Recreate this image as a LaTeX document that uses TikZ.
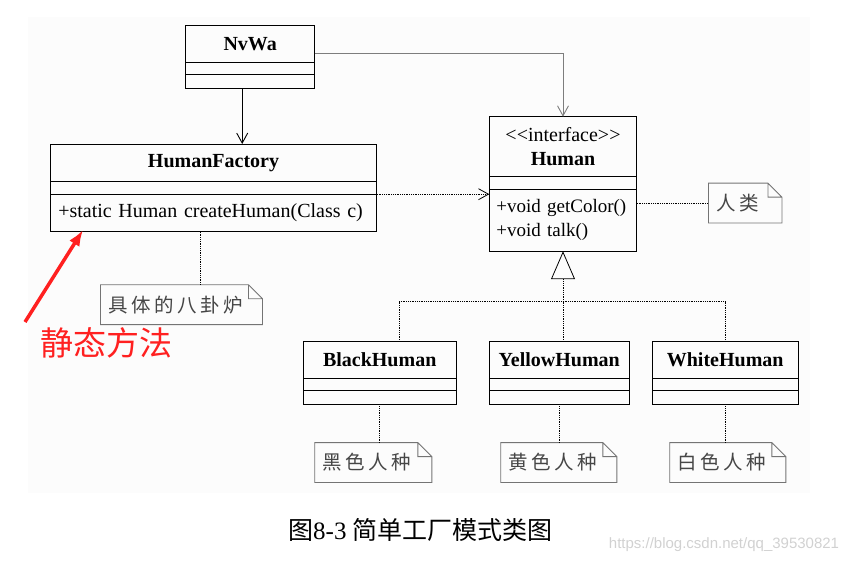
\documentclass[tikz,border=0pt]{standalone}
\usepackage{fontspec}
\usepackage{xcolor}
\setmainfont{Liberation Serif}
\setsansfont{Liberation Sans}
\newfontfamily\cjk{Noto Sans CJK SC}
\newfontfamily\cjkwide{Noto Sans CJK SC}[LetterSpace=18]
\usetikzlibrary{positioning,arrows.meta}

\definecolor{notegray}{RGB}{70,70,70}
\definecolor{linkgray}{RGB}{125,125,125}
\definecolor{markred}{RGB}{255,32,32}

\begin{document}
\begin{tikzpicture}[x=1pt, y=-1pt,
    >={Straight Barb[length=10pt,width=11pt]},
    clsname/.style={draw, line width=0.9pt, minimum width=#1, minimum height=37pt,
      inner sep=0pt, outer sep=0pt, font=\bfseries\fontsize{20}{24}\selectfont},
    clsbar/.style={draw, line width=0.9pt, minimum width=#1, minimum height=12.5pt,
      inner sep=0pt, outer sep=0pt},
    clsops/.style={draw, line width=0.9pt, text width=#1, inner xsep=8pt, inner ysep=0pt,
      outer sep=0pt, align=left, font=\fontsize{20}{24}\selectfont},
    notebox/.style={text width=#1, align=left, inner xsep=8pt, inner ysep=0pt,
      minimum height=39.4pt, text=notegray, font=\cjkwide\fontsize{19.5}{22}\selectfont},
    notedraw/.style={draw=notegray!75, line width=0.8pt},
    notelink/.style={densely dotted, line width=0.8pt},
    assoc/.style={->, line width=0.9pt},
    depend/.style={->, densely dotted, line width=0.8pt},
    realize/.style={densely dotted, line width=0.8pt}
  ]
  \useasboundingbox (0,0) rectangle (854,563);
  \fill[black!1] (28,17) rectangle (810,493);

  % ===== factory side =====
  \node[clsname=129pt, minimum height=36.6pt] (nvwa) at (250.2,44) {NvWa};
  \node[clsbar=129pt, below=0pt of nvwa] (nvwaattr) {};
  \node[clsbar=129pt, minimum height=13.7pt, below=0pt of nvwaattr] (nvwaops) {};

  \node[clsname=326.4pt, minimum height=37.7pt] (hf) at (213.5,162.85)
    {\raisebox{-2pt}{HumanFactory}};
  \node[clsbar=326.4pt, below=0pt of hf] (hfattr) {};
  \node[clsops=310.4pt, minimum height=37.6pt, below=0pt of hfattr] (hfops)
    {+static Human createHuman(Class c)};

  % ===== interface =====
  \node[clsname=147.4pt, minimum height=60pt, align=center] (hum) at (563,146.7)
    {{\mdseries <\kern0pt<interface>\kern0pt>}\\Human};
  \node[clsbar=147.4pt, below=0pt of hum] (humattr) {};
  \node[clsops=133.4pt, inner xsep=7pt, minimum height=62pt, below=0pt of humattr,
        font=\fontsize{19}{24}\selectfont] (humops)
    {+void getColor()\\+void talk()};

  % ===== products =====
  \node[clsname=152.7pt, minimum height=36.6pt] (black) at (379.7,360) {BlackHuman};
  \node[clsbar=152.7pt, below=0pt of black] (blackattr) {};
  \node[clsbar=152.7pt, minimum height=13.6pt, below=0pt of blackattr] (blackops) {};

  \node[clsname=139.7pt, minimum height=36.6pt] (yellow) at (559.2,360) {YellowHuman};
  \node[clsbar=139.7pt, below=0pt of yellow] (yellowattr) {};
  \node[clsbar=139.7pt, minimum height=13.6pt, below=0pt of yellowattr] (yellowops) {};

  \node[clsname=145.7pt, minimum height=36.6pt] (white) at (725.2,360) {WhiteHuman};
  \node[clsbar=145.7pt, below=0pt of white] (whiteattr) {};
  \node[clsbar=145.7pt, minimum height=13.6pt, below=0pt of whiteattr] (whiteops) {};

  % ===== notes =====
  \node[notebox=145.6pt] (nfactory) at (181.5,304.7) {具体的八卦炉};
  \node[notebox=57pt] (nhuman) at (745.2,203) {人类};
  \node[notebox=100.7pt] (nblack) at (373.3,462.5) {黑色人种};
  \node[notebox=99.7pt] (nyellow) at (558.8,462.5) {黄色人种};
  \node[notebox=99.7pt] (nwhite) at (727.8,462.5) {白色人种};
  \foreach \n in {nfactory,nhuman,nblack,nyellow,nwhite}
    \draw[notedraw] (\n.north west) -- ([xshift=-14pt]\n.north east)
      -- ([yshift=-14pt]\n.north east) -- (\n.south east) -- (\n.south west) -- cycle
      ([xshift=-14pt]\n.north east) |- ([yshift=-14pt]\n.north east);

  % ===== connectors =====
  \coordinate (fromnvwa) at ([xshift=-8pt]nvwaops.south);
  \draw[assoc] (fromnvwa) -- (fromnvwa |- hf.north);
  \coordinate (nvwaout) at ([yshift=-9.3pt]nvwa.east);
  \draw[assoc, linkgray] (nvwaout) -| (hum.north);
  \draw[depend] (hfops.north east) -- (hfops.north east -| hum.west);

  \draw[notelink] (humops.east |- nhuman.west) -- (nhuman.west);
  \coordinate (hfnote) at ([xshift=19.2pt]nfactory.north);
  \draw[notelink] (hfnote |- hfops.south) -- (hfnote);
  \draw[notelink] (blackops.south) -- (blackops.south |- nblack.north);
  \draw[notelink] (yellowops.south) -- (yellowops.south |- nyellow.north);
  \draw[notelink] (whiteops.south) -- (whiteops.south |- nwhite.north);

  % realization tree
  \coordinate (split) at (563,301.7);
  \coordinate (blackin) at ([xshift=19.6pt]black.north);
  \draw[realize] (blackin) |- (split) -| (white.north);
  \draw[realize] (yellow.north -| split) -- (split);
  \draw[realize, -{Triangle[open, length=28pt, width=24pt]}] (split) -- (humops.south);

  % ===== red remark =====
  \coordinate (redtail) at (25,322);
  \coordinate (redtip) at (83,230);
  \draw[markred, line width=3.5pt, -{Latex[length=16pt,width=12pt]}] (redtail) -- (redtip);
  \node[font=\cjk\fontsize{33}{36}\selectfont, text=markred] (staticnote) at (106,343) {静态方法};

  % ===== caption =====
  \node[font=\fontsize{25}{28}\selectfont] (caption) at (420.5,530)
    {{\cjk 图}8-3 {\cjk 简单工厂模式类图}};
  \node[font=\sffamily\fontsize{15}{18}\selectfont, text=black!18] (mark) at (724,545)
    {https://blog.csdn.net/qq\_39530821};
\end{tikzpicture}
\end{document}
